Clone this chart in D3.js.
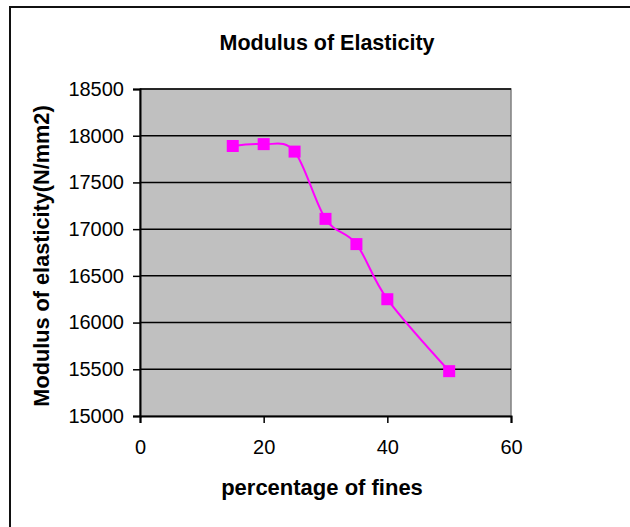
<!DOCTYPE html>
<html>
<head>
<meta charset="utf-8">
<script src="https://cdn.jsdelivr.net/npm/d3@7"></script>
<style>
  body { margin: 0; background: #fff; }
  text { font-family: "Liberation Sans", Arial, sans-serif; }
</style>
</head>
<body>
<svg id="chart" width="630" height="527"></svg>
<script>
// Chart data
var fines = [15, 20, 25, 30, 35, 40, 50];
var modulus = [17890, 17910, 17830, 17110, 16840, 16250, 15480];
var xTicks = [0, 20, 40, 60];
var yTicks = [15000, 15500, 16000, 16500, 17000, 17500, 18000, 18500];

var chartTitle = "Modulus of Elasticity";
var xTitle = "percentage of fines";
var yTitle = "Modulus of elasticity(N/mm2)";

// Layout
var plot = { left: 140, top: 89, right: 511, bottom: 416 };

var svg = d3.select("#chart");

// Outer chart frame (runs off the right and bottom of the picture)
svg.append("rect")
	.attr("x", 10).attr("y", 7)
	.attr("width", 660).attr("height", 560)
	.attr("fill", "#fff")
	.attr("stroke", "#111")
	.attr("stroke-width", 2);

// Scales
var x = d3.scaleLinear().domain([0, 60]).range([plot.left, plot.right]);
var y = d3.scaleLinear().domain([15000, 18500]).range([plot.bottom, plot.top]);

// Plot area
svg.append("rect")
	.attr("x", plot.left).attr("y", plot.top)
	.attr("width", plot.right - plot.left)
	.attr("height", plot.bottom - plot.top)
	.attr("fill", "#c0c0c0")
	.attr("stroke", "#808080")
	.attr("stroke-width", 1.5);

// Gridlines
svg.append("g")
	.selectAll("line")
	.data(yTicks.filter((d) => d > 15000))
	.enter()
	.append("line")
	.attr("x1", plot.left).attr("x2", plot.right)
	.attr("y1", (d) => y(d)).attr("y2", (d) => y(d))
	.attr("stroke", "#000")
	.attr("stroke-width", 1.5);

// Axes
var yAxis = svg.append("g")
	.attr("transform", "translate(" + plot.left + ",0)")
	.call(d3.axisLeft(y).tickValues(yTicks).tickSize(7).tickPadding(9).tickFormat(d3.format("d")));
var xAxis = svg.append("g")
	.attr("transform", "translate(0," + plot.bottom + ")")
	.call(d3.axisBottom(x).tickValues(xTicks).tickSize(7).tickPadding(17).tickFormat(d3.format("d")));

[yAxis, xAxis].forEach((ax) => {
	ax.select(".domain").attr("stroke", "#000").attr("stroke-width", 2);
	ax.selectAll(".tick line").attr("stroke", "#000").attr("stroke-width", 1.5);
	ax.selectAll(".tick text")
		.attr("fill", "#000")
		.style("font-family", "'Liberation Sans', Arial, sans-serif")
		.style("font-size", "20px");
});

// Smoothed series line
var pts = fines.map((d, i) => [x(d), y(modulus[i])]);
svg.append("path")
	.datum(pts)
	.attr("fill", "none")
	.attr("stroke", "#ff00ff")
	.attr("stroke-width", 2)
	.attr("d", d3.line().curve(d3.curveCatmullRom.alpha(0)));

// Square markers
svg.append("g")
	.selectAll("rect")
	.data(pts)
	.enter()
	.append("rect")
	.attr("x", (d) => d[0] - 6)
	.attr("y", (d) => d[1] - 6)
	.attr("width", 12)
	.attr("height", 12)
	.attr("fill", "#ff00ff");

// Titles
svg.append("text")
	.attr("x", 327).attr("y", 50)
	.attr("text-anchor", "middle")
	.style("font-size", "21.5px")
	.style("font-weight", "bold")
	.text(chartTitle);

svg.append("text")
	.attr("x", 322).attr("y", 495)
	.attr("text-anchor", "middle")
	.style("font-size", "22px")
	.style("font-weight", "bold")
	.text(xTitle);

svg.append("text")
	.attr("transform", "translate(49,256) rotate(-90)")
	.attr("text-anchor", "middle")
	.style("font-size", "21.7px")
	.style("font-weight", "bold")
	.text(yTitle);
</script>
</body>
</html>
